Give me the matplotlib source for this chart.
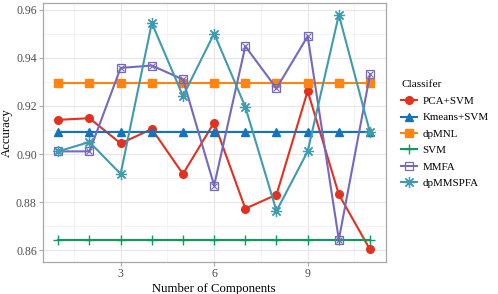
import numpy as np
import matplotlib.pyplot as plt
from matplotlib.lines import Line2D

plt.rcParams['font.family'] = ['Liberation Serif', 'DejaVu Serif']

components = np.arange(1, 12)
pca_svm = [0.9142, 0.9149, 0.9044, 0.9104, 0.8917, 0.9131, 0.8773, 0.8831, 0.9262, 0.8832, 0.8603]
kmeans_svm = [0.909] * 11
dpmnl = [0.9296] * 11
svm = [0.8642] * 11
mmfa = [0.9011, 0.9011, 0.9358, 0.9368, 0.9310, 0.8869, 0.9448, 0.9273, 0.9490, 0.8644, 0.9331]
dpmmspfa = [0.9011, 0.9050, 0.8917, 0.9545, 0.9241, 0.9501, 0.9196, 0.8763, 0.9011, 0.9579, 0.909]

fig = plt.figure(figsize=(4.98, 2.94), dpi=100)
ax = fig.add_axes([42.7 / 498, 1 - 262 / 294, (385.6 - 42.7) / 498, (262 - 3) / 294])

ax.set_xlim(0.5, 11.5)
ax.set_ylim(0.8551, 0.9628)
ax.set_xticks([3, 6, 9])
ax.set_xticks([1.5, 4.5, 7.5, 10.5], minor=True)
ax.set_yticks([0.86, 0.88, 0.90, 0.92, 0.94, 0.96])
ax.set_yticks([0.87, 0.89, 0.91, 0.93, 0.95], minor=True)
ax.set_yticklabels(['0.86', '0.88', '0.90', '0.92', '0.94', '0.96'])
ax.grid(which='major', color='#e6e6e6', lw=0.8)
ax.grid(which='minor', color='#f3f3f3', lw=0.6)
ax.set_axisbelow(True)
for s in ax.spines.values():
    s.set_color('#a8a8a8')
    s.set_linewidth(0.9)
ax.tick_params(which='major', colors='#a8a8a8', labelcolor='#4d4d4d', labelsize=8.5,
               length=3, pad=1.2)
ax.tick_params(which='minor', length=0)

lw = 1.5
ax.plot(components, pca_svm, color='#e3301f', lw=lw, marker='o', ms=5.5, label='PCA+SVM')
ax.plot(components, kmeans_svm, color='#1473bd', lw=lw, marker='^', ms=6, label='Kmeans+SVM')
ax.plot(components, dpmnl, color='#ff8412', lw=lw, marker='s', ms=5.5, label='dpMNL')
ax.plot(components, svm, color='#0f9a5d', lw=lw, marker='+', ms=7, mew=1.0, label='SVM')
ax.plot(components, mmfa, color='#7468c0', lw=lw, marker='s', ms=6, mfc='none', mew=0.9, label='MMFA')
ax.plot(components, mmfa, color='#7468c0', lw=0, marker='x', ms=5, mew=0.8)
ax.plot(components, dpmmspfa, color='#3f9bae', lw=lw, marker=(8, 2, 0), ms=8, mew=0.9, label='dpMMSPFA')

ax.set_xlabel('Number of Components', fontsize=9.2, labelpad=2)
ax.set_ylabel('Accuracy', fontsize=9.2, labelpad=2)

handles = [
    Line2D([], [], color='#e3301f', lw=lw, marker='o', ms=5.5),
    Line2D([], [], color='#1473bd', lw=lw, marker='^', ms=6),
    Line2D([], [], color='#ff8412', lw=lw, marker='s', ms=5.5),
    Line2D([], [], color='#0f9a5d', lw=lw, marker='+', ms=7, mew=1.0),
    Line2D([], [], color='#7468c0', lw=lw, marker='s', ms=6, mfc='none', mew=0.9),
    Line2D([], [], color='#3f9bae', lw=lw, marker=(8, 2, 0), ms=8, mew=0.9),
]
labels = ['PCA+SVM', 'Kmeans+SVM', 'dpMNL', 'SVM', 'MMFA', 'dpMMSPFA']
leg = fig.legend(handles, labels, title='Classifer', loc='upper left',
                 bbox_to_anchor=(397 / 498, 1 - 76 / 294), frameon=False,
                 fontsize=7.9, title_fontsize=8.2, handlelength=1.4,
                 handletextpad=0.5, labelspacing=0.62, borderaxespad=0)
leg._legend_box.align = 'left'

fig.savefig('out.png', dpi=100)
